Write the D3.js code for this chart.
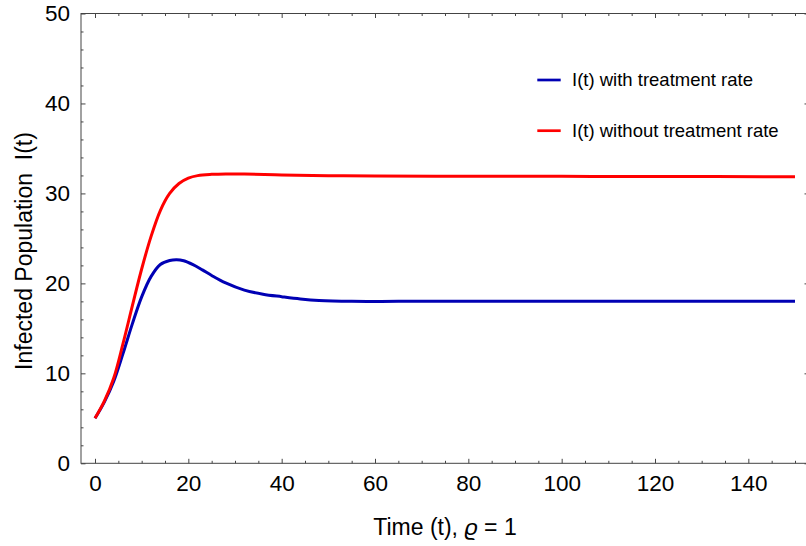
<!DOCTYPE html>
<html>
<head>
<meta charset="utf-8">
<script src="https://cdn.jsdelivr.net/npm/d3@7"></script>
<style>
  html, body { margin: 0; padding: 0; background: #fff; }
  svg { display: block; }
  text { font-family: "Liberation Sans", Arial, sans-serif; }
</style>
</head>
<body>
<script>
// ---------------- data ----------------
const seriesNames = ["I(t) with treatment rate", "I(t) without treatment rate"];
const seriesColors = ["#0000b4", "#ff0000"];

const tWith = [0, 2, 4, 6, 8, 10, 12, 14, 16, 17.5, 19, 21, 23, 25, 28, 32, 36, 40, 44, 48, 55, 65, 80, 100, 120, 150];
const iWith = [5, 6.8, 9.1, 12.2, 15.5, 18.5, 20.75, 22.1, 22.55, 22.64, 22.52, 22.08, 21.5, 20.88, 20.05, 19.25, 18.8, 18.52, 18.27, 18.1, 18.0, 18.0, 18.0, 18.0, 18.0, 18.0];

const tWithout = [0, 2, 4, 6, 8, 10, 12, 14, 16, 18, 20, 22, 25, 28, 32, 40, 50, 60, 80, 100, 120, 150];
const iWithout = [5, 6.9, 9.45, 13.3, 17.5, 21.6, 25.2, 28.1, 30.0, 31.1, 31.7, 31.98, 32.12, 32.17, 32.15, 32.05, 31.97, 31.93, 31.9, 31.9, 31.88, 31.86];

const xMajorTicks = [0, 20, 40, 60, 80, 100, 120, 140];
const yMajorTicks = [0, 10, 20, 30, 40, 50];
const xTitle = "Time (t), ";
const yTitle = "Infected Population\u00A0\u00A0I(t)";

// ---------------- layout ----------------
const W = 806, H = 546;
const svg = d3.select("body").append("svg").attr("width", W).attr("height", H);

const x = d3.scaleLinear().domain([-3, 153]).range([81, 809]);
const y = d3.scaleLinear().domain([0, 50]).range([463.3, 13.5]);

const frameColor = "#444";
const xMinor = d3.range(0, 155, 5).filter(v => xMajorTicks.indexOf(v) < 0);
const yMinor = d3.range(0, 51, 2).filter(v => yMajorTicks.indexOf(v) < 0);

// frame
svg.append("rect")
  .attr("x", x.range()[0]).attr("y", y.range()[1])
  .attr("width", x.range()[1] - x.range()[0])
  .attr("height", y.range()[0] - y.range()[1])
  .attr("fill", "none").attr("stroke", frameColor).attr("stroke-width", 1);

function styleTicks(g) {
  g.select(".domain").remove();
  g.selectAll(".tick line").attr("stroke", frameColor);
  g.selectAll(".tick text").attr("font-size", 22.5).attr("fill", "#000")
    .attr("font-family", "Liberation Sans, Arial, sans-serif");
}

// bottom axis
svg.append("g").attr("transform", `translate(0,${y.range()[0]})`)
  .call(d3.axisBottom(x).tickValues(xMajorTicks).tickSize(-4.5).tickPadding(12).tickFormat(d3.format("d")))
  .call(styleTicks);
svg.append("g").attr("transform", `translate(0,${y.range()[0]})`)
  .call(d3.axisBottom(x).tickValues(xMinor).tickSize(-2.5).tickFormat(""))
  .call(styleTicks);

// top axis ticks
svg.append("g").attr("transform", `translate(0,${y.range()[1]})`)
  .call(d3.axisTop(x).tickValues(xMajorTicks).tickSize(-4.5).tickFormat(""))
  .call(styleTicks);
svg.append("g").attr("transform", `translate(0,${y.range()[1]})`)
  .call(d3.axisTop(x).tickValues(xMinor).tickSize(-2.5).tickFormat(""))
  .call(styleTicks);

// left axis
svg.append("g").attr("transform", `translate(${x.range()[0]},0)`)
  .call(d3.axisLeft(y).tickValues(yMajorTicks).tickSize(-4.5).tickPadding(11).tickFormat(d3.format("d")))
  .call(styleTicks);
svg.append("g").attr("transform", `translate(${x.range()[0]},0)`)
  .call(d3.axisLeft(y).tickValues(yMinor).tickSize(-2.5).tickFormat(""))
  .call(styleTicks);

// right axis ticks
svg.append("g").attr("transform", `translate(${x.range()[1]},0)`)
  .call(d3.axisRight(y).tickValues(yMajorTicks).tickSize(-4.5).tickFormat(""))
  .call(styleTicks);
svg.append("g").attr("transform", `translate(${x.range()[1]},0)`)
  .call(d3.axisRight(y).tickValues(yMinor).tickSize(-2.5).tickFormat(""))
  .call(styleTicks);

// curves
const line = d3.line().x(d => x(d[0])).y(d => y(d[1])).curve(d3.curveCatmullRom.alpha(0.5));
const dataWith = tWith.map((t, i) => [t, iWith[i]]);
const dataWithout = tWithout.map((t, i) => [t, iWithout[i]]);

svg.append("path").datum(dataWith).attr("d", line)
  .attr("fill", "none").attr("stroke", seriesColors[0]).attr("stroke-width", 3)
  .attr("stroke-linejoin", "round");
svg.append("path").datum(dataWithout).attr("d", line)
  .attr("fill", "none").attr("stroke", seriesColors[1]).attr("stroke-width", 3)
  .attr("stroke-linejoin", "round");

// legend
const legendY = [80, 130.7];
seriesNames.forEach((name, i) => {
  svg.append("line")
    .attr("x1", 537.3).attr("x2", 560.7)
    .attr("y1", legendY[i]).attr("y2", legendY[i])
    .attr("stroke", seriesColors[i]).attr("stroke-width", 2.7);
  svg.append("text")
    .attr("x", 572).attr("y", legendY[i] + 6.3)
    .attr("font-size", 18.5).attr("fill", "#000")
    .text(name);
});

// axis titles
const xt = svg.append("text")
  .attr("x", (x.range()[0] + x.range()[1]) / 2).attr("y", 535)
  .attr("text-anchor", "middle").attr("font-size", 23).attr("fill", "#000");
xt.append("tspan").text(xTitle);
xt.append("tspan").attr("font-style", "italic").text("\u03F1");
xt.append("tspan").text(" = 1");

svg.append("text")
  .attr("transform", `translate(32,251) rotate(-90)`)
  .attr("text-anchor", "middle").attr("font-size", 23).attr("fill", "#000")
  .text(yTitle);
</script>
</body>
</html>
